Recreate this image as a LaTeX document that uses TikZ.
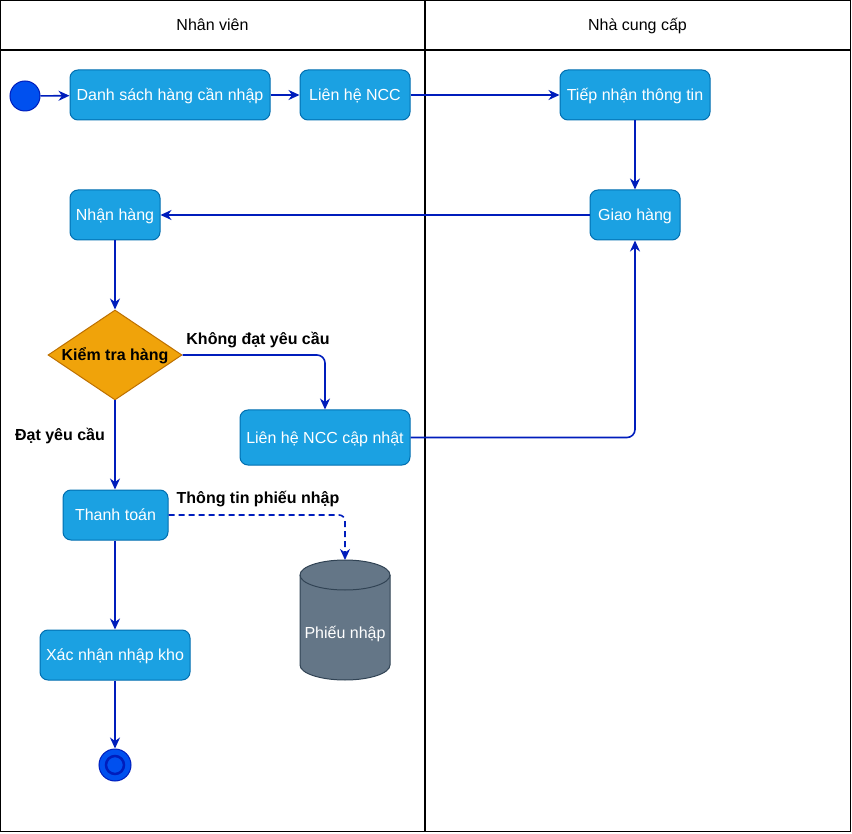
\documentclass[tikz,border=0pt]{standalone}
\usepackage{fontspec}
\setmainfont{Liberation Sans}
\usetikzlibrary{arrows.meta,shapes.geometric}

\definecolor{boxfill}{HTML}{1BA1E2}
\definecolor{boxline}{HTML}{006EAF}
\definecolor{decfill}{HTML}{F0A30A}
\definecolor{decline}{HTML}{BD7000}
\definecolor{dbfill}{HTML}{647687}
\definecolor{dbline}{HTML}{314354}
\definecolor{startfill}{HTML}{0050EF}
\definecolor{flowcol}{HTML}{001DBC}

\tikzset{
  txt/.style={font=\fontsize{16}{19}\selectfont},
  capcenter/.style={text height=11.5pt, text depth=0pt},
  action/.style={txt, capcenter, draw=boxline, fill=boxfill, text=white, rounded corners=8pt,
    line width=1pt, inner sep=0pt},
  decision/.style={txt, capcenter, font=\fontsize{16}{19}\selectfont\bfseries, diamond,
    draw=decline, fill=decfill, line width=1pt, inner sep=0pt, aspect=1.49,
    minimum width=134pt, minimum height=90pt},
  flow/.style={draw=flowcol, line width=1.6pt,
    -{Stealth[length=11pt,width=10pt,inset=3.5pt]}},
  dataflow/.style={flow, dash pattern=on 6pt off 4pt},
  edgelabel/.style={txt, font=\fontsize{16}{19}\selectfont\bfseries, text=black},
  lane/.style={draw=black, line width=1.2pt},
}

\begin{document}
\begin{tikzpicture}[x=1pt, y=-1pt]
  \useasboundingbox (0,0) rectangle (852,834);

  % swimlanes
  \draw[lane] (0.75,0.75) rectangle (850.25,831.75);
  \draw[lane] (0.75,50) -- (850.25,50);
  \draw[lane] (425,0.75) -- (425,831.75);
  \node[txt, capcenter] (laneA) at (212.5,25) {Nhân viên};
  \node[txt, capcenter] (laneB) at (637.5,25) {Nhà cung cấp};

  % start state
  \node[circle, draw=flowcol, fill=startfill, line width=1pt, minimum size=30pt,
    inner sep=0pt] (start) at (25,96) {};

  % actions
  \node[action, minimum width=200pt, minimum height=50pt] (list) at (170,95)
    {Danh sách hàng cần nhập};
  \node[action, minimum width=110pt, minimum height=50pt] (contact) at (355,95)
    {Liên hệ NCC};
  \node[action, minimum width=150pt, minimum height=50pt] (receive) at (635,95)
    {Tiếp nhận thông tin};
  \node[action, minimum width=90pt, minimum height=50pt] (deliver) at (635,215)
    {Giao hàng};
  \node[action, minimum width=90pt, minimum height=50pt] (accept) at (115,215)
    {Nhận hàng};
  \node[decision] (check) at (115,355) {Kiểm tra hàng};
  \node[action, minimum width=170pt, minimum height=55pt] (update) at (325,437.5)
    {Liên hệ NCC cập nhật};
  \node[action, minimum width=105pt, minimum height=50pt] (pay) at (115.5,515)
    {Thanh toán};
  \node[action, minimum width=150pt, minimum height=50pt] (confirm) at (115,655)
    {Xác nhận nhập kho};

  % data store
  \path[draw=dbline, fill=dbfill, line width=1pt]
    (300,575) -- (300,665) arc[start angle=180, end angle=360, x radius=45pt, y radius=15pt]
    -- (390,575) arc[start angle=0, end angle=180, x radius=45pt, y radius=15pt] -- cycle;
  \draw[draw=dbline, line width=1pt]
    (300,575) arc[start angle=180, end angle=360, x radius=45pt, y radius=15pt];
  \coordinate (dbtop) at (345,560);
  \node[txt, capcenter, text=white] (db) at (345,633) {Phiếu nhập};

  % end state
  \node[circle, draw=flowcol, fill=startfill, line width=1pt, minimum size=32pt,
    inner sep=0pt] (stop) at (115,765) {};
  \node[circle, draw=flowcol, fill=startfill, line width=2.5pt, minimum size=18pt,
    inner sep=0pt] (stopcore) at (115,765) {};

  % control flow
  \draw[flow] (start) -- (list);
  \draw[flow] (list) -- (contact);
  \draw[flow] (contact) -- (receive);
  \draw[flow] (receive) -- (deliver);
  \draw[flow] (deliver) -- (accept);
  \draw[flow] (accept) -- (check.north);
  \draw[flow, rounded corners=8pt] (check.east) -| (update.north);
  \draw[flow, rounded corners=8pt] (update.east) -| (deliver.south);
  \draw[flow] (check.south) -- (pay.north -| check.south);
  \draw[dataflow, rounded corners=6pt] (pay.east) -| (dbtop);
  \draw[flow] (pay.south -| confirm.north) -- (confirm.north);
  \draw[flow] (confirm) -- (stop);

  % edge labels
  \node[edgelabel] (lblNo) at (258,340) {Không đạt yêu cầu};
  \node[edgelabel] (lblYes) at (60,436) {Đạt yêu cầu};
  \node[edgelabel] (lblData) at (258,499) {Thông tin phiếu nhập};
\end{tikzpicture}
\end{document}
